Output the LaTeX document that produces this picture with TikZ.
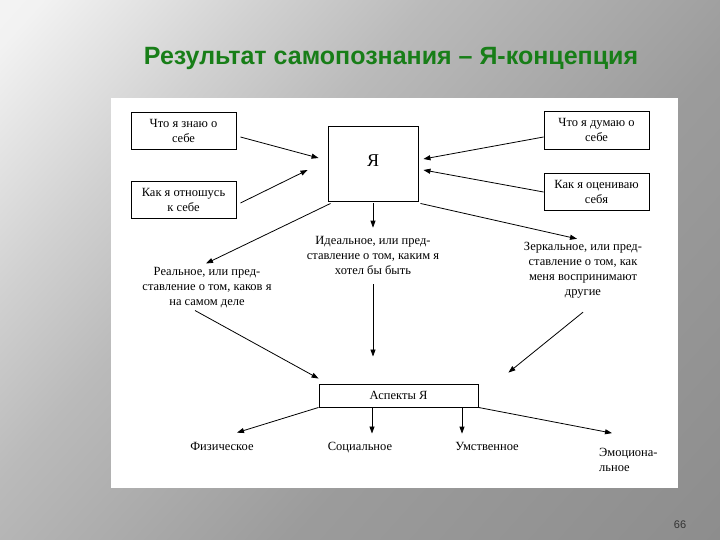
\documentclass[tikz,border=0pt]{standalone}
\usepackage{fontspec}
\setmainfont{Liberation Serif}
\newfontfamily\titlefont{Liberation Sans}
\usetikzlibrary{arrows.meta,positioning}
\definecolor{titlegreen}{RGB}{24,126,24}
\pgfdeclarehorizontalshading{slidebg}{100bp}{color(0bp)=(black!3); color(17bp)=(black!5); color(30bp)=(black!18); color(40bp)=(black!27); color(60bp)=(black!39); color(100bp)=(black!48)}

\begin{document}
\begin{tikzpicture}[x=1pt,y=-1pt,
  box/.style={draw,line width=0.9pt,align=center,inner sep=2pt},
  txt/.style={align=center,inner sep=0pt},
  arr/.style={-{Triangle[length=7pt,width=5pt]},line width=0.8pt},
  font=\fontsize{12.5}{15}\selectfont]
  % slide background
  \useasboundingbox (0,0) rectangle (720,540);
  \shade[shading=slidebg,shading angle=-42] (0,0) rectangle (720,540);
  \fill[white] (111,98) rectangle (678,488);
  \node[font=\titlefont\bfseries\fontsize{25}{29}\selectfont,text=titlegreen] (title) at (391,58) {Результат самопознания – Я-концепция};
  \node[font=\titlefont\fontsize{11}{13}\selectfont,text=black!80] (pagenum) at (680,525) {66};

  % upper part
  \node[box,minimum width=105,minimum height=37] (znayu) at (183.5,130.5) {Что я знаю о\\себе};
  \node[box,minimum width=105,minimum height=37] (otnosh) at (183.5,199.5) {Как я отношусь\\к себе};
  \node[box,minimum width=90,minimum height=75,font=\fontsize{18}{20}\selectfont] (ya) at (373,163.5) {\raisebox{5pt}{Я}};
  \node[box,minimum width=105,minimum height=38] (dumayu) at (596.5,130) {Что я думаю о\\себе};
  \node[box,minimum width=105,minimum height=37] (otsen) at (596.5,191.5) {Как я оцениваю\\себя};

  \node[txt] (ideal) at (373,255) {Идеальное, или пред-\\ставление о том, каким я\\хотел бы быть};
  \node[txt] (real) at (207,288) {Реальное, или пред-\\ставление о том, каков я\\на самом деле};
  \node[txt] (zerk) at (583,270) {Зеркальное, или пред-\\ставление о том, как\\меня воспринимают\\другие};

  % lower part
  \node[box,minimum width=159,minimum height=23] (aspekty) at (398.5,395.5) {Аспекты Я};
  \node[txt,anchor=base] (fiz) at (222,450) {Физическое};
  \node[txt,anchor=base] (soc) at (360,450) {Социальное};
  \node[txt,anchor=base] (umst) at (487,450) {Умственное};
  \node[txt,align=left,anchor=west] (emoc) at (599,460) {Эмоциона-\\льное};

  \path[arr]
  ([shift={(4,6.5)}]znayu.east) edge ([shift={(-9,-5.5)}]ya.west)
  ([shift={(4,3.5)}]otnosh.east) edge ([shift={(-20,6.5)}]ya.west)
  ([shift={(0,7)}]dumayu.west) edge ([shift={(5,-4.5)}]ya.east)
  ([shift={(0,0.5)}]otsen.west) edge ([shift={(5,6.5)}]ya.east)
  (ya) edge [shorten <=2,shorten >=8] (ideal)
  ([shift={(3,2)}]ya.south west) edge ([shift={(-1,-4)}]real.north)
  ([shift={(2,2)}]ya.south east) edge ([shift={(-6,-3)}]zerk.north)
  (ideal.south) edge [shorten <=10,shorten >=27] (ideal.south |- aspekty.north)
  ([shift={(-12,2)}]real.south) edge ([shift={(0,-5)}]aspekty.north west)
  ([shift={(0,14)}]zerk.south) edge ([shift={(30,-11)}]aspekty.north east)
  (aspekty.south west) edge ([shift={(15,-9)}]fiz.north)
  ([xshift=-26.5]aspekty.south) edge ([shift={(12,-8)}]soc.north)
  ([xshift=63.5]aspekty.south) edge ([shift={(-25,-8)}]umst.north)
  (aspekty.south east) edge ([shift={(13,-15)}]emoc.north west)
  ;
\end{tikzpicture}
\end{document}
